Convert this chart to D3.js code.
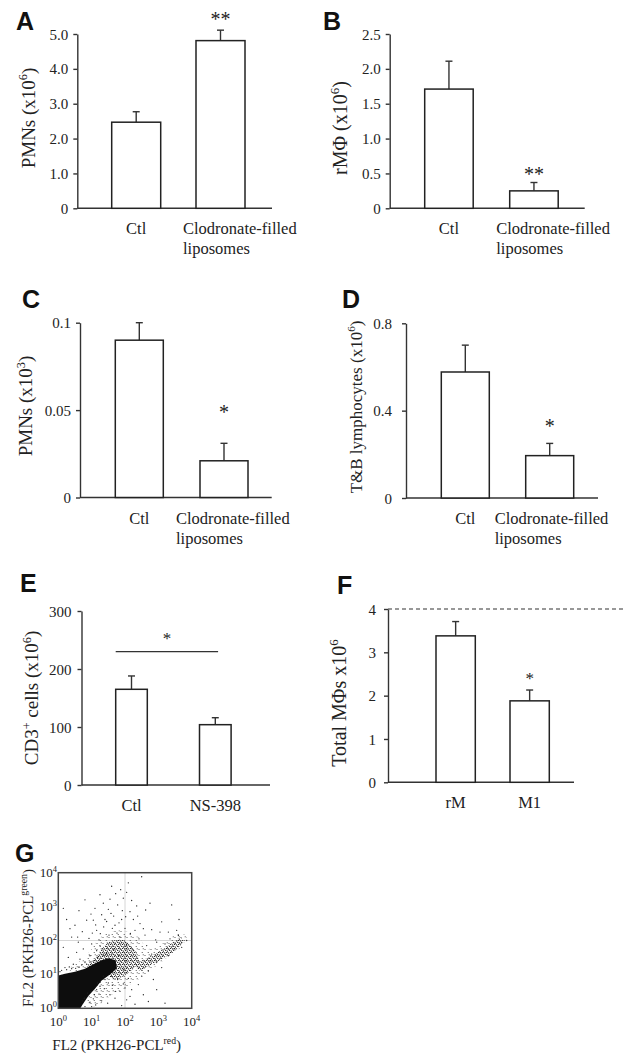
<!DOCTYPE html>
<meta charset="utf-8">
<head>
<style>
body { margin: 0; background: #fff; }
svg text { font-family: "Liberation Serif", "Times New Roman", serif; fill: #222; }
svg text.letter { font-family: "Liberation Sans", Arial, sans-serif; font-weight: bold; font-size: 25px; fill: #111; }
</style>
</head>
<body>
<div id="chart"></div>
<script src="https://d3js.org/d3.v7.min.js"></script>
<script>

// ---- data ----
var aCategories = ["Ctl", "Clodronate-filled liposomes"];
var aMeans = [2.47, 4.81];
var aErrors = [0.30, 0.30];
var aTicks = [0, 1, 2, 3, 4, 5];
var aTickLabels = ["0", "1.0", "2.0", "3.0", "4.0", "5.0"];

var bCategories = ["Ctl", "Clodronate-filled liposomes"];
var bMeans = [1.71, 0.25];
var bErrors = [0.40, 0.12];
var bTicks = [0, 0.5, 1, 1.5, 2, 2.5];
var bTickLabels = ["0", "0.5", "1.0", "1.5", "2.0", "2.5"];

var cCategories = ["Ctl", "Clodronate-filled liposomes"];
var cMeans = [0.090, 0.021];
var cErrors = [0.010, 0.010];
var cTicks = [0, 0.05, 0.1];
var cTickLabels = ["0", "0.05", "0.1"];

var dCategories = ["Ctl", "Clodronate-filled liposomes"];
var dMeans = [0.577, 0.194];
var dErrors = [0.123, 0.056];
var dTicks = [0, 0.4, 0.8];
var dTickLabels = ["0", "0.4", "0.8"];

var eCategories = ["Ctl", "NS-398"];
var eMeans = [165, 104];
var eErrors = [23, 12];
var eTicks = [0, 100, 200, 300];
var eTickLabels = ["0", "100", "200", "300"];

var fCategories = ["rM", "M1"];
var fMeans = [3.38, 1.88];
var fErrors = [0.33, 0.25];
var fTicks = [0, 1, 2, 3, 4];
var fTickLabels = ["0", "1", "2", "3", "4"];
var fReference = 4;

// flow cytometry panel G, in log10 units (decades)
var gTicks = [0, 1, 2, 3, 4];
var gCore = [[0,0],[0,0.97],[0.2,1.02],[0.5,1.08],[0.8,1.17],[1.05,1.3],[1.3,1.42],[1.5,1.48],[1.72,1.42],[1.76,1.18],[1.55,1.0],[1.3,0.82],[1.1,0.58],[0.9,0.36],[0.72,0.1],[0.66,0]];
var gCloud = [[0.85,1.22],[1.1,1.45],[1.3,1.75],[1.55,1.97],[1.9,2.02],[2.15,1.88],[2.35,1.62],[2.42,1.35],[2.2,1.12],[1.95,0.95],[1.75,0.85],[1.5,0.95],[1.2,1.2]];
var gHalo = [[0.3,1.15],[0.8,1.5],[1.1,1.9],[1.4,2.2],[1.9,2.3],[2.4,2.1],[2.7,1.75],[3.2,1.95],[3.6,2.25],[3.85,2.1],[3.7,1.8],[3.2,1.45],[2.8,1.15],[2.4,0.85],[2.0,0.6],[1.6,0.4],[1.3,0.15],[1.0,0.05],[0.8,0.3],[1.1,0.7],[1.0,1.0],[0.6,1.05]];
var gTail = [[2.3,1.3],[2.7,1.5],[3.1,1.72],[3.45,1.95],[3.65,2.08],[3.75,1.95],[3.5,1.7],[3.1,1.45],[2.7,1.25],[2.45,1.1]];
var gDots = [
  [2.50,3.88],[1.87,3.50],[1.72,3.38],[2.05,3.42],[1.95,3.25],[1.55,3.22],[2.20,3.18],[1.35,3.10],[1.78,3.05],[2.35,3.02],
  [1.10,2.95],[1.50,2.92],[1.92,2.88],[2.62,2.90],[0.62,2.88],[0.98,2.78],[1.30,2.76],[1.66,2.72],[2.02,2.70],[2.25,2.62],
  [0.85,2.60],[1.45,2.56],[1.82,2.52],[2.45,2.50],[3.10,2.55],[0.50,2.45],[1.12,2.46],[1.36,2.40],[1.62,2.36],[2.00,2.36],
  [2.30,2.30],[2.80,2.32],[0.72,2.26],[1.02,2.22],[1.26,2.20],[1.52,2.16],[1.76,2.22],[2.16,2.21],[2.60,2.16],[3.30,2.25],
  [0.40,2.10],[0.92,2.06],[1.22,2.02],[2.42,2.05],[2.92,2.02],[3.55,2.30],[0.25,2.62],[3.62,2.62],[0.15,2.95],[1.60,3.60],
  [2.10,3.70],[0.80,3.20],[1.25,3.35],[2.75,3.10],[3.40,3.05],[1.40,2.62],[1.70,2.45],[1.05,2.60],[2.15,2.85],[0.35,2.35],
  [2.55,2.35],[1.85,2.10],[3.05,2.25],[1.58,2.80],[1.90,2.62],[1.15,2.30],[2.38,2.72],[0.58,2.10],
  [0.20,1.20],[0.45,1.30],[0.65,1.45],[0.80,1.35],[0.95,1.55],[1.05,1.40],[1.15,1.70],[1.25,1.85],[1.35,1.60],[0.55,1.65],
  [0.30,1.50],[0.75,1.75],[1.00,1.90],[0.60,1.95],[0.15,1.80],[2.65,1.85],[2.80,1.60],[2.95,1.95],[3.20,1.90],[3.35,2.05],
  [3.60,2.15],[3.85,2.00],[3.70,1.80],[3.30,1.55],[2.95,1.35],[2.70,1.10],[2.50,0.95],[3.10,1.20],[2.85,0.85],[0.05,1.08],
  [0.25,1.14],[0.40,1.17],[0.62,1.22],[0.85,1.30],[1.45,1.62],[1.65,1.72],[2.05,1.85],[2.25,1.70],[1.80,1.55],[2.00,1.40],
  [0.10,1.12],[0.33,1.22],[0.52,1.18],[0.70,1.28],[0.95,1.36],[1.18,1.50],[1.40,1.56],[1.60,1.60],[1.85,1.30],[1.95,1.15],
  [0.80,0.05],[0.95,0.18],[1.05,0.28],[1.12,0.10],[1.22,0.42],[1.30,0.22],[1.38,0.58],[1.48,0.15],[1.55,0.40],[1.62,0.68],
  [1.70,0.30],[1.78,0.85],[1.85,0.50],[1.95,0.72],[2.05,0.25],[2.10,0.88],[2.20,0.55],[2.30,0.12],[2.40,0.70],[2.55,0.40],
  [2.70,0.20],[2.95,0.55],[3.20,0.15],[1.00,0.05],[1.40,0.85],[1.90,0.08],[1.60,0.95],[2.00,0.60],[1.25,0.65],[0.88,0.45],
  [0.72,0.22],[1.15,0.55],[1.50,0.75],[1.72,0.50],[2.15,0.35],[0.78,0.30],[0.98,0.50],[1.18,0.75],[1.35,0.95],[1.08,0.40]
];

// ---- drawing ----
var SERIF = "Liberation Serif, Times New Roman, serif";

var svg = d3.select("#chart").append("svg")
  .attr("width", 624)
  .attr("height", 1054);

// text with superscript pieces: parts = [[string, isSuper], ...]
function richText(t, parts, size) {
  parts.forEach(function(p, i) {
    var s = t.append("tspan").text(p[0]);
    if (p[1]) s.attr("font-size", size * 0.65).attr("dy", -size * 0.38);
    else if (i > 0 && parts[i - 1][1]) s.attr("dy", size * 0.38);
  });
}

function letter(ch, x, y) {
  svg.append("text").attr("class", "letter").attr("x", x).attr("y", y).text(ch);
}

function barPanel(p) {
  var g = svg.append("g").attr("font-family", SERIF);
  var y = d3.scaleLinear().domain([0, p.yMax]).range([p.y0, p.y1]);
  var step = p.bar2 - p.bar1;
  var x = d3.scaleBand()
    .domain(p.categories)
    .range([p.bar1, p.bar2 + p.barW])
    .paddingInner(1 - p.barW / step)
    .paddingOuter(0);

  // y axis
  var ax = g.append("g")
    .attr("transform", "translate(" + p.axisX + ",0)")
    .call(d3.axisLeft(y)
      .tickValues(p.ticks)
      .tickFormat(function(d, i) { return p.tickLabels[i]; })
      .tickSize(4)
      .tickSizeOuter(0)
      .tickPadding(p.tickPad));
  ax.attr("font-family", SERIF).attr("font-size", null);
  ax.selectAll("text").attr("font-size", "15px").attr("fill", "#333").attr("dy", "0.34em");
  ax.selectAll("line, path").attr("stroke", "#333").attr("stroke-width", 1.4);

  // x axis line
  g.append("line")
    .attr("x1", p.axisX).attr("x2", p.xEnd)
    .attr("y1", p.y0).attr("y2", p.y0)
    .attr("stroke", "#333").attr("stroke-width", 1.4);

  if (p.refLine != null) {
    g.append("line")
      .attr("x1", p.axisX).attr("x2", 624)
      .attr("y1", y(p.refLine)).attr("y2", y(p.refLine))
      .attr("stroke", "#333").attr("stroke-width", 1.2)
      .attr("stroke-dasharray", "4,3");
  }

  var rows = p.categories.map(function(c, i) {
    return {cat: c, mean: p.means[i], err: p.errors[i]};
  });

  // error bars
  rows.forEach(function(d) {
    var cx = x(d.cat) + x.bandwidth() / 2;
    g.append("line")
      .attr("x1", cx).attr("x2", cx)
      .attr("y1", y(d.mean)).attr("y2", y(d.mean + d.err))
      .attr("stroke", "#333").attr("stroke-width", 1.4);
    g.append("line")
      .attr("x1", cx - 3.5).attr("x2", cx + 3.5)
      .attr("y1", y(d.mean + d.err)).attr("y2", y(d.mean + d.err))
      .attr("stroke", "#333").attr("stroke-width", 1.4);
  });

  g.selectAll("rect.bar")
    .data(rows)
    .enter().append("rect")
      .attr("class", "bar")
      .attr("x", function(d) { return x(d.cat); })
      .attr("y", function(d) { return y(d.mean); })
      .attr("width", x.bandwidth())
      .attr("height", function(d) { return p.y0 - y(d.mean); })
      .attr("fill", "#fff")
      .attr("stroke", "#222")
      .attr("stroke-width", 1.5);

  // category labels
  rows.forEach(function(d, i) {
    var cx = x(d.cat) + x.bandwidth() / 2;
    var words = d.cat.split(" ");
    var t = g.append("text")
      .attr("font-family", SERIF)
      .attr("font-size", "16.5px")
      .attr("fill", "#222")
      .attr("text-anchor", p.labelDx[i] == null ? "middle" : "start");
    words.forEach(function(w, k) {
      t.append("tspan")
        .attr("x", cx + (p.labelDx[i] == null ? 0 : p.labelDx[i]))
        .attr("y", p.y0 + 26 + k * 20)
        .text(w);
    });
  });

  // significance marks
  if (p.stars) {
    p.stars.forEach(function(s) {
      var cx = x(p.categories[s.index]) + x.bandwidth() / 2;
      g.append("text")
        .attr("x", cx).attr("y", y(s.value))
        .attr("text-anchor", "middle")
        .attr("font-size", s.size + "px")
        .attr("fill", "#333")
        .text(s.text);
    });
  }
  if (p.bracket) {
    var b = p.bracket;
    var bx1 = x(p.categories[0]);
    var bx2 = x(p.categories[1]) + x.bandwidth() - 13;
    g.append("line")
      .attr("x1", bx1).attr("x2", bx2)
      .attr("y1", y(b.value)).attr("y2", y(b.value))
      .attr("stroke", "#333").attr("stroke-width", 1.3);
    g.append("text")
      .attr("x", (bx1 + bx2) / 2)
      .attr("y", y(b.value) - 8)
      .attr("text-anchor", "middle")
      .attr("font-size", "17px")
      .attr("fill", "#333")
      .text("*");
  }

  // y label
  var yl = g.append("text")
    .attr("transform", "translate(" + p.ylabX + "," + p.ylabY + ") rotate(-90)")
    .attr("text-anchor", "middle")
    .attr("font-size", p.ylabSize + "px")
    .attr("fill", "#222");
  richText(yl, p.ylab, p.ylabSize);
}

letter("A", 16, 30);
barPanel({
  categories: aCategories, means: aMeans, errors: aErrors,
  ticks: aTicks, tickLabels: aTickLabels, yMax: 5,
  y0: 208.3, y1: 34, axisX: 77.3, xEnd: 272, tickPad: 5,
  bar1: 111.7, bar2: 196, barW: 49, labelDx: [null, -37.5],
  stars: [{index: 1, value: 5.22, text: "**", size: 20}],
  ylab: [["PMNs (x10", false], ["6", true], [")", false]], ylabX: 34.5, ylabY: 118, ylabSize: 19
});

letter("B", 323, 30);
barPanel({
  categories: bCategories, means: bMeans, errors: bErrors,
  ticks: bTicks, tickLabels: bTickLabels, yMax: 2.5,
  y0: 208.3, y1: 34, axisX: 389.7, xEnd: 584.7, tickPad: 5,
  bar1: 424.7, bar2: 509.7, barW: 48.5, labelDx: [null, -37.7],
  stars: [{index: 1, value: 0.39, text: "**", size: 20}],
  ylab: [["rM\u03A6 (x10", false], ["6", true], [")", false]], ylabX: 347, ylabY: 128, ylabSize: 20
});

letter("C", 22, 308);
barPanel({
  categories: cCategories, means: cMeans, errors: cErrors,
  ticks: cTicks, tickLabels: cTickLabels, yMax: 0.1,
  y0: 497.5, y1: 322.7, axisX: 80, xEnd: 271.7, tickPad: 5,
  bar1: 115.3, bar2: 200, barW: 48, labelDx: [null, -48],
  stars: [{index: 1, value: 0.0447, text: "*", size: 20}],
  ylab: [["PMNs (x10", false], ["3", true], [")", false]], ylabX: 32, ylabY: 406, ylabSize: 19
});

letter("D", 342, 308);
barPanel({
  categories: dCategories, means: dMeans, errors: dErrors,
  ticks: dTicks, tickLabels: dTickLabels, yMax: 0.8,
  y0: 498, y1: 323.3, axisX: 406, xEnd: 598, tickPad: 10,
  bar1: 441.3, bar2: 525.7, barW: 48, labelDx: [null, -55],
  stars: [{index: 1, value: 0.299, text: "*", size: 20}],
  ylab: [["T&B lymphocytes (x10", false], ["6", true], [")", false]], ylabX: 361.5, ylabY: 407, ylabSize: 17
});

letter("E", 20, 592);
barPanel({
  categories: eCategories, means: eMeans, errors: eErrors,
  ticks: eTicks, tickLabels: eTickLabels, yMax: 300,
  y0: 785, y1: 611, axisX: 81.5, xEnd: 270, tickPad: 6,
  bar1: 115.7, bar2: 199.5, barW: 31.6, labelDx: [null, null],
  bracket: {value: 230},
  ylab: [["CD3", false], ["+", true], [" cells (x10", false], ["6", true], [")", false]], ylabX: 38, ylabY: 698, ylabSize: 19
});

letter("F", 337, 594);
barPanel({
  categories: fCategories, means: fMeans, errors: fErrors,
  ticks: fTicks, tickLabels: fTickLabels, yMax: 4,
  y0: 782.3, y1: 609, axisX: 388, xEnd: 574, tickPad: 8,
  bar1: 436, bar2: 510, barW: 39.3, labelDx: [null, null], refLine: fReference,
  stars: [{index: 1, value: 2.27, text: "*", size: 17}],
  ylab: [["Total M\u03A6s x10", false], ["6", true]], ylabX: 346, ylabY: 703, ylabSize: 20
});

// ---- panel G: flow cytometry dot plot ----
letter("G", 15, 862);
var gx = d3.scaleLinear().domain([0, 4]).range([58.3, 191.7]);
var gy = d3.scaleLinear().domain([0, 4]).range([1008.3, 872.7]);
var G = svg.append("g").attr("font-family", SERIF);

var defs = G.append("defs");
defs.append("clipPath").attr("id", "gclip")
  .append("rect")
    .attr("x", gx(0)).attr("y", gy(4))
    .attr("width", gx(4) - gx(0)).attr("height", gy(0) - gy(4));
defs.append("filter").attr("id", "soft")
  .append("feGaussianBlur").attr("stdDeviation", 0.6);

// stipple textures for the dot clouds
var dense = defs.append("pattern").attr("id", "dense")
  .attr("patternUnits", "userSpaceOnUse").attr("width", 4).attr("height", 4);
[[0.6, 0.9], [2.6, 0.4], [1.7, 2.4], [3.4, 3.1]].forEach(function(c) {
  dense.append("circle").attr("cx", c[0]).attr("cy", c[1]).attr("r", 0.65).attr("fill", "#1a1a1a");
});
var light = defs.append("pattern").attr("id", "light")
  .attr("patternUnits", "userSpaceOnUse").attr("width", 6).attr("height", 6);
[[1.0, 1.5], [4.2, 4.4], [5.2, 0.8]].forEach(function(c) {
  light.append("circle").attr("cx", c[0]).attr("cy", c[1]).attr("r", 0.5).attr("fill", "#222");
});

var inner = G.append("g").attr("clip-path", "url(#gclip)");
inner.append("line").attr("x1", gx(2)).attr("x2", gx(2)).attr("y1", gy(0)).attr("y2", gy(4))
  .attr("stroke", "#ccc").attr("stroke-width", 0.8);
inner.append("line").attr("x1", gx(0)).attr("x2", gx(4)).attr("y1", gy(2)).attr("y2", gy(2))
  .attr("stroke", "#ccc").attr("stroke-width", 0.8);

var smooth = d3.line()
  .x(function(d) { return gx(d[0]); })
  .y(function(d) { return gy(d[1]); })
  .curve(d3.curveCardinalClosed.tension(0.4));
var straight = d3.line()
  .x(function(d) { return gx(d[0]); })
  .y(function(d) { return gy(d[1]); })
  .curve(d3.curveLinearClosed);

inner.append("path").attr("d", smooth(gHalo)).attr("fill", "url(#light)");
inner.append("path").attr("d", smooth(gTail)).attr("fill", "url(#dense)");
inner.append("path").attr("d", smooth(gCloud)).attr("fill", "url(#dense)");
inner.append("path").attr("d", straight(gCore)).attr("fill", "#111").attr("filter", "url(#soft)");

inner.selectAll("circle.dot")
  .data(gDots)
  .enter().append("circle")
    .attr("class", "dot")
    .attr("cx", function(d) { return gx(d[0]); })
    .attr("cy", function(d) { return gy(d[1]); })
    .attr("r", 0.65)
    .attr("fill", "#222");

G.append("rect")
  .attr("x", gx(0)).attr("y", gy(4))
  .attr("width", gx(4) - gx(0)).attr("height", gy(0) - gy(4))
  .attr("fill", "none").attr("stroke", "#444").attr("stroke-width", 1.5);

gTicks.forEach(function(k) {
  var tx = G.append("text")
    .attr("x", gx(k)).attr("y", 1026)
    .attr("text-anchor", "middle")
    .attr("font-size", "13px").attr("fill", "#333");
  richText(tx, [["10", false], [String(k), true]], 13);
  var ty = G.append("text")
    .attr("x", 57).attr("y", gy(k) + 4)
    .attr("text-anchor", "end")
    .attr("font-size", "13px").attr("fill", "#333");
  richText(ty, [["10", false], [String(k), true]], 13);
});

var gxl = G.append("text")
  .attr("x", 116.7).attr("y", 1050)
  .attr("text-anchor", "middle")
  .attr("font-size", "15px").attr("fill", "#222");
richText(gxl, [["FL2 (PKH26-PCL", false], ["red", true], [")", false]], 15);

var gyl = G.append("text")
  .attr("transform", "translate(33,938) rotate(-90)")
  .attr("text-anchor", "middle")
  .attr("font-size", "15px").attr("fill", "#222");
richText(gyl, [["FL2 (PKH26-PCL", false], ["green", true], [")", false]], 15);

</script>
</body>
